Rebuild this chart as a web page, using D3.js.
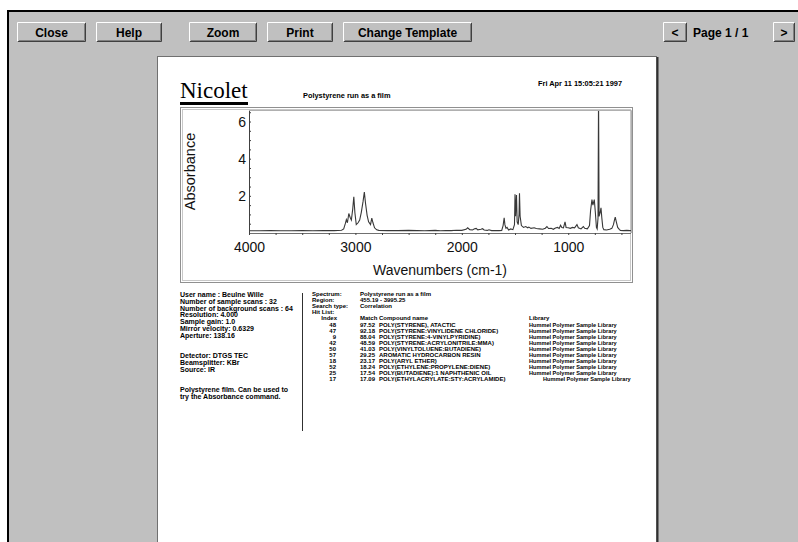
<!DOCTYPE html>
<html>
<head>
<meta charset="utf-8">
<script src="https://cdn.jsdelivr.net/npm/d3@7"></script>
<style>
	body { margin: 0; background: #fff; }
	svg { display: block; }
	text { font-family: "Liberation Sans", Arial, sans-serif; }
</style>
</head>
<body>
<script>

// spectrum (cm-1, absorbance)
var wavenumbers = [4000, 3900, 3800, 3700, 3600, 3500, 3400, 3300, 3200, 3130, 3110, 3095, 3085, 3075, 3062, 3050, 3038, 3025, 3015, 3005,
	2992, 2975, 2960, 2945, 2928, 2916, 2905, 2890, 2876, 2858, 2846, 2835, 2820, 2800, 2780, 2700, 2600, 2500, 2420, 2350,
	2300, 2250, 2200, 2150, 2100, 2050, 2000, 1960, 1945, 1925, 1900, 1880, 1865, 1850, 1820, 1805, 1790, 1760, 1745, 1720,
	1680, 1650, 1625, 1612, 1602, 1595, 1585, 1575, 1560, 1540, 1520, 1505, 1500, 1495, 1486, 1480, 1470, 1462, 1458, 1452,
	1440, 1420, 1400, 1380, 1370, 1350, 1320, 1300, 1270, 1240, 1215, 1200, 1185, 1160, 1140, 1120, 1100, 1085, 1072, 1060,
	1045, 1030, 1020, 1000, 980, 960, 940, 918, 905, 880, 858, 845, 820, 800, 790, 777, 768, 755, 745, 735,
	728, 720, 715, 710, 700, 692, 684, 675, 665, 640, 610, 590, 575, 565, 558, 548, 535, 520, 510, 480,
	450, 420, 410];
var absorbance = [0.12, 0.12, 0.13, 0.12, 0.12, 0.13, 0.12, 0.13, 0.13, 0.15, 0.22, 0.5, 0.72, 0.55, 1.05, 0.85, 0.7, 1.3, 1.95, 1.1,
	0.45, 0.55, 0.7, 1.1, 1.7, 2.2, 1.6, 0.95, 0.6, 0.45, 0.8, 0.55, 0.28, 0.17, 0.14, 0.13, 0.13, 0.14, 0.13, 0.12,
	0.13, 0.14, 0.12, 0.13, 0.13, 0.15, 0.14, 0.2, 0.28, 0.18, 0.16, 0.23, 0.25, 0.17, 0.2, 0.23, 0.16, 0.14, 0.17, 0.13,
	0.13, 0.13, 0.14, 0.4, 0.82, 0.45, 0.25, 0.3, 0.16, 0.22, 0.18, 0.45, 2.08, 0.9, 2.05, 0.6, 0.45, 1.0, 2.14, 0.9,
	0.4, 0.3, 0.35, 0.28, 0.32, 0.25, 0.28, 0.24, 0.22, 0.2, 0.26, 0.35, 0.24, 0.25, 0.2, 0.27, 0.3, 0.25, 0.42, 0.3,
	0.28, 0.6, 0.3, 0.28, 0.25, 0.3, 0.28, 0.45, 0.28, 0.22, 0.35, 0.25, 0.22, 0.4, 1.2, 1.8, 1.5, 1.8, 1.1, 0.3,
	0.22, 0.8, 7.5, 0.9, 1.1, 1.35, 0.8, 0.3, 0.18, 0.16, 0.2, 0.25, 0.45, 0.7, 0.85, 0.6, 0.3, 0.2, 0.14, 0.13,
	0.14, 0.13, 0.13];

var xTickLabels = [4000, 3000, 2000, 1000];
var yTickLabels = [2, 4, 6];

var buttonLabels = ["Close", "Help", "Zoom", "Print", "Change Template"];
var pageLabel = "Page 1 / 1";

var reportDate = "Fri Apr 11 15:05:21 1997";
var reportTitle = "Polystyrene run as a film";

var infoLines = ["User name : Beulne Wille", "Number of sample scans : 32", "Number of background scans : 64",
	"Resolution:  4.000", "Sample gain:  1.0", "Mirror velocity:  0.6329", "Aperture:  138.16", "", "",
	"Detector:  DTGS TEC", "Beamsplitter:  KBr", "Source:  IR", "", "",
	"Polystyrene film.  Can be used to", "try the Absorbance command."];

var searchKeys = ["Spectrum:", "Region:", "Search type:", "Hit List:"];
var searchValues = ["Polystyrene run as a film", "455.19 -   3995.25", "Correlation", ""];

var hitIndex = [48, 47, 9, 42, 50, 57, 18, 52, 25, 17];
var hitMatch = ["97.52", "92.18", "88.04", "48.59", "41.03", "29.25", "23.17", "18.24", "17.54", "17.09"];
var hitName = ["POLY(STYRENE),  ATACTIC", "POLY(STYRENE:VINYLIDENE CHLORIDE)", "POLY(STYRENE:4-VINYLPYRIDINE)",
	"POLY(STYRENE:ACRYLONITRILE:MMA)", "POLY(VINYLTOLUENE:BUTADIENE)", "AROMATIC HYDROCARBON RESIN",
	"POLY(ARYL ETHER)", "POLY(ETHYLENE:PROPYLENE:DIENE)", "POLY(BUTADIENE):1 NAPHTHENIC OIL",
	"POLY(ETHYLACRYLATE:STY:ACRYLAMIDE)"];
var hitLibrary = ["Hummel Polymer Sample Library", "Hummel Polymer Sample Library", "Hummel Polymer Sample Library",
	"Hummel Polymer Sample Library", "Hummel Polymer Sample Library", "Hummel Polymer Sample Library",
	"Hummel Polymer Sample Library", "Hummel Polymer Sample Library", "Hummel Polymer Sample Library",
	"Hummel Polymer Sample Library"];

// layout of the toolbar buttons (left, right)
var buttonBox = [[17, 86], [96, 162], [189, 257], [267, 333], [343, 472]];

var svg = d3.select("body").append("svg")
	.attr("width", 798)
	.attr("height", 542);

svg.append("rect").attr("width", 798).attr("height", 542).attr("fill", "#fff");
svg.append("rect").attr("x", 8).attr("y", 10).attr("width", 790).attr("height", 532).attr("fill", "#c0c0c0");
svg.append("line").attr("x1", 7).attr("x2", 798).attr("y1", 11).attr("y2", 11).attr("stroke", "#000").attr("stroke-width", 2);
svg.append("line").attr("x1", 8).attr("x2", 8).attr("y1", 10).attr("y2", 542).attr("stroke", "#000").attr("stroke-width", 2);

function button(x0, x1, label){
	var y0 = 22, y1 = 42;
	var g = svg.append("g");
	g.append("rect").attr("x", x0).attr("y", y0).attr("width", x1 - x0).attr("height", y1 - y0).attr("fill", "#c0c0c0");
	g.append("path").attr("d", "M" + (x0 + 0.5) + "," + (y1 - 1) + "V" + (y0 + 0.5) + "H" + (x1 - 1))
		.attr("fill", "none").attr("stroke", "#fff");
	g.append("path").attr("d", "M" + (x0 + 1) + "," + (y1 - 0.5) + "H" + (x1 - 0.5) + "V" + (y0 + 1))
		.attr("fill", "none").attr("stroke", "#404040");
	g.append("path").attr("d", "M" + (x0 + 2) + "," + (y1 - 1.5) + "H" + (x1 - 1.5) + "V" + (y0 + 2))
		.attr("fill", "none").attr("stroke", "#808080");
	if (label) {
		g.append("text").attr("x", (x0 + x1) / 2).attr("y", 37)
			.attr("text-anchor", "middle").style("font-size", "12px").style("font-weight", "bold")
			.text(label);
	}
}

for (var i = 0; i < buttonLabels.length; i++) {
	button(buttonBox[i][0], buttonBox[i][1], buttonLabels[i]);
}
button(663, 687, "<");
button(773, 795, ">");
svg.append("text").attr("x", 693).attr("y", 37).style("font-size", "12px").style("font-weight", "bold").text(pageLabel);

// the printed page
svg.append("rect").attr("x", 157.5).attr("y", 56.5).attr("width", 499).attr("height", 500)
	.attr("fill", "#fff").attr("stroke", "#707070");
svg.append("line").attr("x1", 657.5).attr("x2", 657.5).attr("y1", 57).attr("y2", 542).attr("stroke", "#303030").attr("stroke-width", 2);

svg.append("text").attr("x", 180).attr("y", 98)
	.style("font-family", "'Liberation Serif', 'Times New Roman', serif").style("font-size", "23px")
	.text("Nicolet");
svg.append("rect").attr("x", 180).attr("y", 102).attr("width", 68).attr("height", 3).attr("fill", "#000");

svg.append("text").attr("x", 622).attr("y", 86).attr("text-anchor", "end")
	.style("font-size", "7.4px").style("font-weight", "bold").text(reportDate);
svg.append("text").attr("x", 303).attr("y", 98)
	.style("font-size", "7.4px").style("font-weight", "bold").text(reportTitle);

// plot panel
svg.append("rect").attr("x", 180.5).attr("y", 107.5).attr("width", 452).attr("height", 175)
	.attr("fill", "#fff").attr("stroke", "#909090");
svg.append("rect").attr("x", 182.5).attr("y", 109.5).attr("width", 448).attr("height", 171)
	.attr("fill", "none").attr("stroke", "#c8c8c8");

var plotL = 249, plotR = 631, plotT = 110, plotB = 233;

var x = d3.scaleLinear().domain([4000, 410]).range([plotL, plotR]);
var y = d3.scaleLinear().domain([0, 6.62]).range([plotB, plotT]);

svg.append("defs").append("clipPath").attr("id", "plotclip")
	.append("rect").attr("x", plotL).attr("y", plotT).attr("width", plotR - plotL).attr("height", plotB - plotT);

var pts = wavenumbers.map(function(w, i){ return [w, absorbance[i]]; });

svg.append("path")
	.datum(pts)
	.attr("clip-path", "url(#plotclip)")
	.attr("fill", "none")
	.attr("stroke", "#383838")
	.attr("stroke-width", 1.1)
	.attr("d", d3.line().x(function(d){ return x(d[0]); }).y(function(d){ return y(d[1]); }));

// axes
var xAxis = d3.axisBottom(x).tickValues(d3.range(4000, 409, -250)).tickSize(2).tickFormat("");
var gx = svg.append("g").attr("transform", "translate(0," + plotB + ")").call(xAxis);
gx.select(".domain").attr("stroke", "#707070").attr("d", "M" + plotL + ",0.5H" + plotR);
gx.selectAll(".tick line").attr("stroke", "#404040");

var gxl = svg.append("g").attr("transform", "translate(0," + plotB + ")")
	.call(d3.axisBottom(x).tickValues(xTickLabels).tickSize(0).tickPadding(9).tickFormat(d3.format("d")));
gxl.select(".domain").remove();
gxl.selectAll("text").style("font-size", "14px").style("font-family", "'Liberation Sans', Arial, sans-serif").attr("fill", "#111");

var yAxis = d3.axisRight(y).tickValues(d3.range(0.5, 6.6, 0.5)).tickSize(2).tickFormat("");
var gy = svg.append("g").attr("transform", "translate(" + plotL + ",0)").call(yAxis);
gy.select(".domain").attr("stroke", "#404040").attr("d", "M0.5," + plotT + "V" + plotB);
gy.selectAll(".tick line").attr("stroke", "#404040");

var gyl = svg.append("g").attr("transform", "translate(" + plotL + ",0)")
	.call(d3.axisLeft(y).tickValues(yTickLabels).tickSize(0).tickPadding(3).tickFormat(d3.format("d")));
gyl.select(".domain").remove();
gyl.selectAll("text").style("font-size", "14px").style("font-family", "'Liberation Sans', Arial, sans-serif").attr("fill", "#111");

// plot box top and right
svg.append("path").attr("d", "M" + plotL + "," + (plotT + 0.5) + "H" + (plotR + 0.5) + "V" + plotB)
	.attr("fill", "none").attr("stroke", "#b0b0b0");

svg.append("text").attr("x", (plotL + plotR) / 2).attr("y", 275).attr("text-anchor", "middle")
	.style("font-size", "14px").attr("fill", "#111").text("Wavenumbers (cm-1)");
svg.append("text").attr("transform", "translate(195," + ((plotT + plotB) / 2) + ") rotate(-90)")
	.attr("text-anchor", "middle").style("font-size", "14.5px").attr("fill", "#111").text("Absorbance");

// collection info
svg.append("g").selectAll("text").data(infoLines).enter().append("text")
	.attr("x", 180).attr("y", function(d, i){ return 297 + i * 6.8; })
	.style("font-size", "7px").style("font-weight", "bold")
	.text(function(d){ return d; });

svg.append("line").attr("x1", 302.5).attr("x2", 302.5).attr("y1", 293).attr("y2", 431)
	.attr("stroke", "#303030");

// search results
var rowH = 6.1;
var tbl = svg.append("g").style("font-size", "6px").style("font-weight", "bold");
tbl.selectAll(".k").data(searchKeys).enter().append("text").attr("class", "k")
	.attr("x", 312).attr("y", function(d, i){ return 296 + i * rowH; }).text(function(d){ return d; });
tbl.selectAll(".v").data(searchValues).enter().append("text").attr("class", "v")
	.attr("x", 360).attr("y", function(d, i){ return 296 + i * rowH; }).text(function(d){ return d; });

var hy = 296 + 4 * rowH;
tbl.append("text").attr("x", 337).attr("y", hy).attr("text-anchor", "end").text("Index");
tbl.append("text").attr("x", 360).attr("y", hy).text("Match");
tbl.append("text").attr("x", 379).attr("y", hy).text("Compound name");
tbl.append("text").attr("x", 529).attr("y", hy).text("Library");

for (var r = 0; r < hitIndex.length; r++) {
	var ry = hy + (r + 1) * rowH;
	tbl.append("text").attr("x", 336).attr("y", ry).attr("text-anchor", "end").text(hitIndex[r]);
	tbl.append("text").attr("x", 360).attr("y", ry).text(hitMatch[r]);
	tbl.append("text").attr("x", 379).attr("y", ry).text(hitName[r]);
	tbl.append("text").attr("x", r == hitIndex.length - 1 ? 543 : 529).attr("y", ry)
		.style("font-size", "5.6px").text(hitLibrary[r]);
}

</script>
</body>
</html>
